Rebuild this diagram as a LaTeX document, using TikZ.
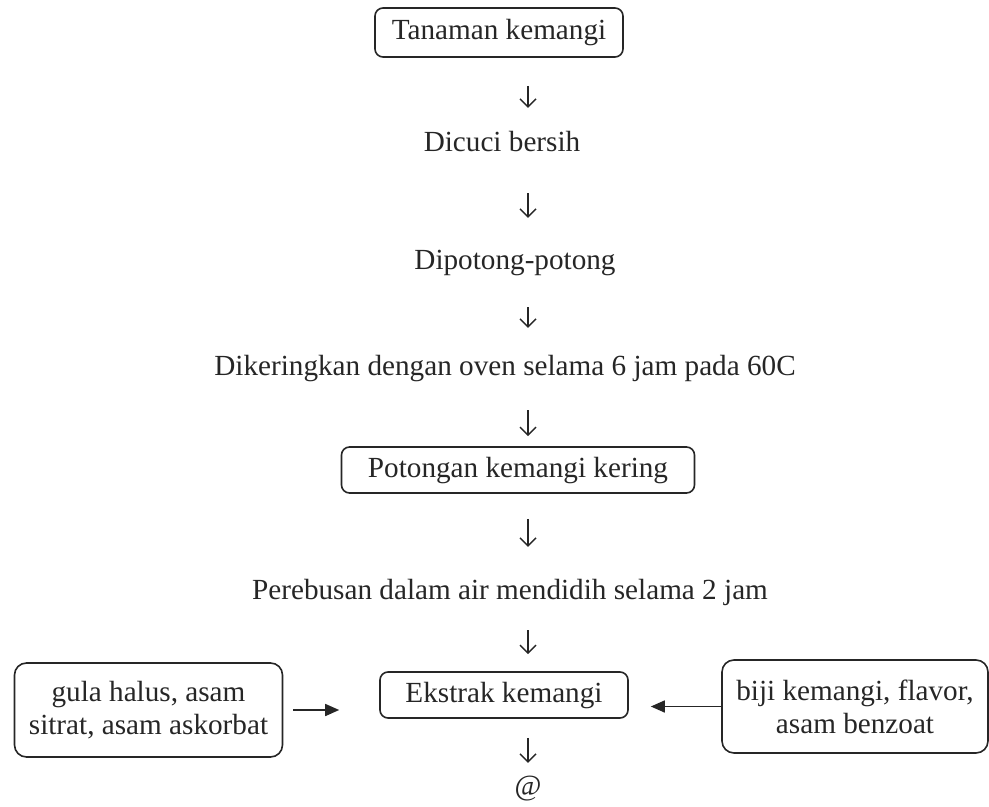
\documentclass[tikz,border=0pt]{standalone}
\usepackage{fontspec}
\setmainfont{Liberation Serif}
\usetikzlibrary{arrows.meta}
\tikzset{
  kotak/.style={draw,rounded corners=4pt,line width=0.8pt,text height=10pt,text depth=3pt,inner sep=0pt,minimum height=23pt,minimum width=124pt},
  teks/.style={inner sep=0pt,text height=9.7pt,text depth=0pt},
  bahan/.style={draw,rounded corners=6pt,line width=0.8pt,align=center,inner sep=0pt,minimum width=134pt,minimum height=47pt},
  flow/.style 2 args={-{Straight Barb[length=4pt,width=8pt]},line width=0.7pt,shorten <=#1,shorten >=#2},
  masuk/.style 2 args={-{Triangle[length=7pt,width=6pt]},line width=0.8pt,shorten <=#1,shorten >=#2}
}
\begin{document}
\begin{tikzpicture}[x=0.5pt,y=-0.5pt,font=\fontsize{14.6}{16.5}\selectfont,color=black!85]
\useasboundingbox (0,0) rectangle (989,807);
% alur utama
\node[kotak,minimum height=24.5pt] (tanaman) at (499,32.5) {Tanaman kemangi};
\node[teks] (dicuci) at (502,142) {Dicuci bersih};
\node[teks] (potong) at (515,260) {Dipotong-potong};
\node[teks] (kering) at (505,366) {Dikeringkan dengan oven selama 6 jam pada 60C};
\node[kotak,minimum width=176.5pt] (potongan) at (518,470) {Potongan kemangi kering};
\node[teks] (rebus) at (510,590) {Perebusan dalam air mendidih selama 2 jam};
\node[kotak] (ekstrak) at (504,695) {Ekstrak kemangi};
\node[teks] (akhir) at (528,786) {@};
% bahan tambahan
\node[bahan] (kiri) at (148.5,710) {gula halus, asam\\sitrat, asam askorbat};
\node[bahan,minimum width=133pt,minimum height=46.5pt] (kanan) at (855,706.5) {biji kemangi, flavor,\\asam benzoat};

\draw[flow={14pt}{12pt}] (tanaman.south -| akhir) -- (dicuci.north -| akhir);
\draw[flow={20.5pt}{16pt}] (dicuci.south -| akhir) -- (potong.north -| akhir);
\draw[flow={18.5pt}{14pt}] (potong.south -| akhir) -- (kering.north -| akhir);
\draw[flow={17pt}{5pt}] (kering.south -| akhir) -- (potongan.north -| akhir);
\draw[flow={12.5pt}{16.5pt}] (potongan.south -| akhir) -- (rebus.north -| akhir);
\draw[flow={15pt}{8.5pt}] (rebus.south -| akhir) -- (ekstrak.north -| akhir);
\draw[flow={9.5pt}{6.5pt}] (ekstrak.south -| akhir) -- (akhir.north);
\draw[masuk={5pt}{20pt}] (kiri.east) -- (ekstrak.west |- kiri.east);
\draw[masuk={0pt}{11pt}] (kanan.west) -- (ekstrak.east |- kanan.west);
\end{tikzpicture}
\end{document}
